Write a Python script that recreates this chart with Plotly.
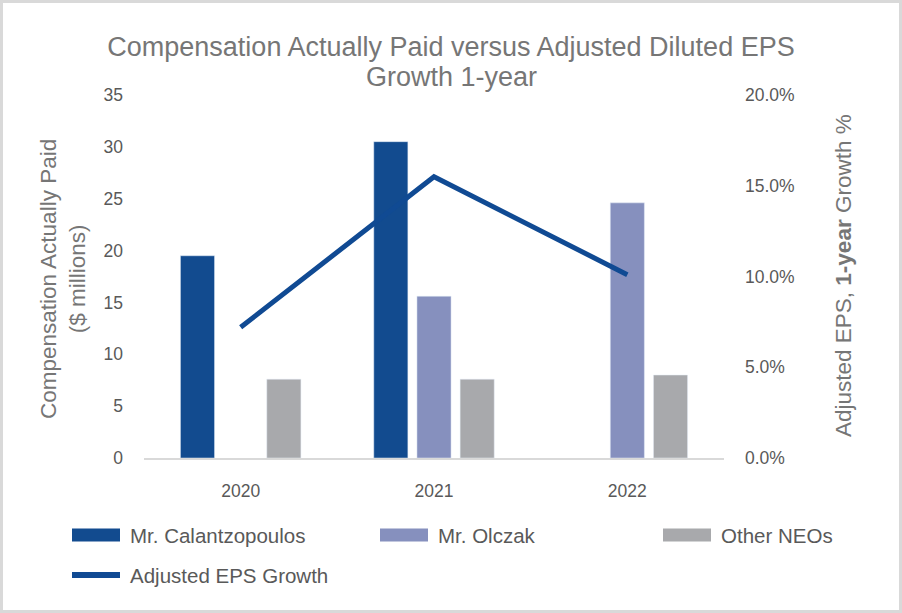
import plotly.graph_objects as go

years = ["2020", "2021", "2022"]
calantzopoulos = [19.5, 30.5, None]
olczak = [None, 15.6, 24.6]
other_neos = [7.6, 7.6, 8.0]
eps_growth = [0.072, 0.155, 0.101]

series_names = ["Mr. Calantzopoulos", "Mr. Olczak", "Other NEOs", "Adjusted EPS Growth"]
title_line1 = "Compensation Actually Paid versus Adjusted Diluted EPS"
title_line2 = "Growth 1-year"
c_cal = "#124b8f"
c_olc = "#8690be"
c_oth = "#a8a9ac"
c_line = "#104a93"

W, H = 902, 613
L, R, T, B = 144, 178, 95, 155
PW = W - L - R
PH = H - T - B

def px(x):
    return (x - L) / PW

def py(y):
    return (H - B - y) / PH

FONT = "Liberation Sans, Arial, sans-serif"

fig = go.Figure()
fig.add_trace(go.Bar(x=years, y=calantzopoulos, name=series_names[0], marker_color=c_cal, showlegend=False))
fig.add_trace(go.Bar(x=years, y=olczak, name=series_names[1], marker_color=c_olc, showlegend=False))
fig.add_trace(go.Bar(x=years, y=other_neos, name=series_names[2], marker_color=c_oth, showlegend=False))
fig.add_trace(go.Scatter(x=years, y=eps_growth, name=series_names[3], mode="lines",
                         line=dict(color=c_line, width=5), yaxis="y2", showlegend=False))

shapes = [
    dict(type="rect", xref="paper", yref="paper", x0=px(1.5), x1=px(W - 1.5), y0=py(1.5), y1=py(H - 1.5),
         line=dict(color="#d9d9d9", width=3), fillcolor="rgba(0,0,0,0)", layer="below"),
]
annotations = []

# custom legend
leg_items = [
    (series_names[0], c_cal, 72, 535, "bar"),
    (series_names[1], c_olc, 380, 535, "bar"),
    (series_names[2], c_oth, 663, 535, "bar"),
    (series_names[3], c_line, 72, 575, "line"),
]
for name, col, x0, yc, kind in leg_items:
    if kind == "bar":
        shapes.append(dict(type="rect", xref="paper", yref="paper", x0=px(x0), x1=px(x0 + 48),
                           y0=py(yc + 6.5), y1=py(yc - 6.5), fillcolor=col, line=dict(width=0)))
    else:
        shapes.append(dict(type="line", xref="paper", yref="paper", x0=px(x0), x1=px(x0 + 48),
                           y0=py(yc), y1=py(yc), line=dict(color=col, width=6)))
    annotations.append(dict(text=name, xref="paper", yref="paper", x=px(x0 + 56), y=py(yc),
                            xanchor="left", yanchor="middle", showarrow=False,
                            font=dict(family=FONT, size=20.5, color="#595959")))

annotations.append(dict(text=title_line2, xref="paper", yref="paper", x=px(451), y=py(77),
                        xanchor="center", yanchor="middle", showarrow=False,
                        font=dict(family=FONT, size=27, color="#767676")))
annotations.append(dict(text="Compensation Actually Paid<br>($ millions)", xref="paper", yref="paper",
                        x=px(63), y=py(279), textangle=-90, showarrow=False,
                        xanchor="center", yanchor="middle",
                        font=dict(family=FONT, size=22.5, color="#767676")))
annotations.append(dict(text="Adjusted EPS, <b>1-year</b> Growth %", xref="paper", yref="paper",
                        x=px(843), y=py(276), textangle=-90, showarrow=False,
                        xanchor="center", yanchor="middle",
                        font=dict(family=FONT, size=22.5, color="#767676")))

fig.update_layout(
    width=W, height=H,
    margin=dict(l=L, r=R, t=T, b=B),
    paper_bgcolor="white", plot_bgcolor="white",
    barmode="group", bargap=0.33, bargroupgap=0.21,
    title=dict(text=title_line1,
               x=0.5, xref="container", xanchor="center",
               y=1 - 47 / H, yref="container", yanchor="middle",
               font=dict(family=FONT, size=27, color="#767676")),
    xaxis=dict(type="category", showgrid=False, showline=True, linecolor="#d9d9d9", linewidth=1.5,
               ticks="", tickfont=dict(family=FONT, size=17.5, color="#595959"), ticklabelstandoff=16),
    yaxis=dict(range=[0, 35], dtick=5, showgrid=False, zeroline=False, showline=False,
               tickfont=dict(family=FONT, size=17.5, color="#595959"), ticklabelstandoff=20),
    yaxis2=dict(range=[0, 0.2], dtick=0.05, tickformat=".1%", overlaying="y", side="right",
                showgrid=False, zeroline=False, showline=False,
                tickfont=dict(family=FONT, size=17.5, color="#595959"), ticklabelstandoff=20),
    shapes=shapes,
    annotations=annotations,
    showlegend=False,
)

fig.write_html("out.html", config={"displayModeBar": False},
               post_script="document.body.style.margin='0';document.body.style.overflow='hidden';")
